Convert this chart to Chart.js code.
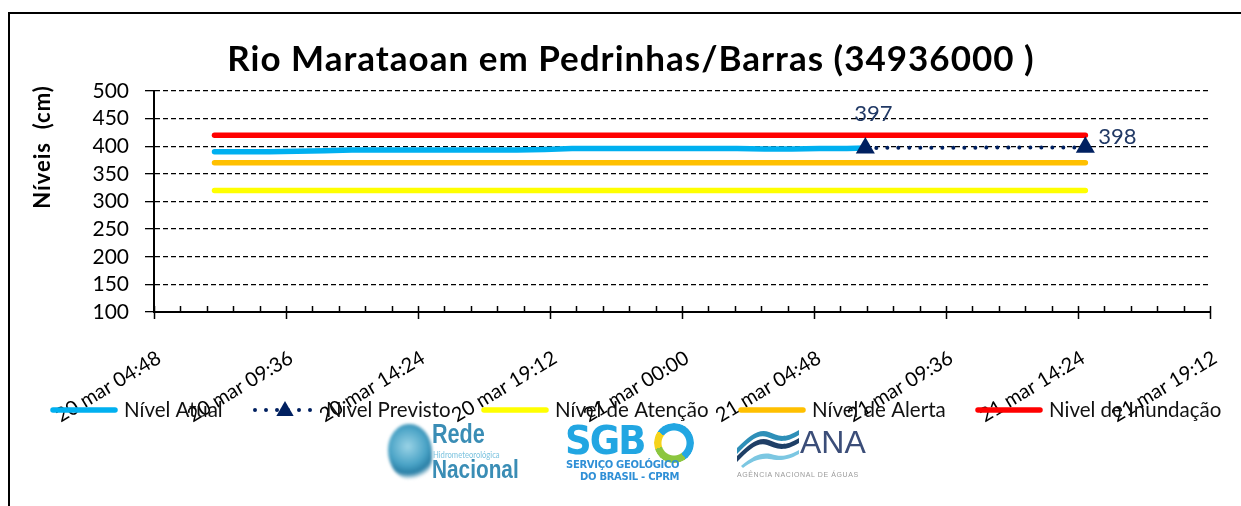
<!DOCTYPE html>
<html>
<head>
<meta charset="utf-8">
<script src="https://cdn.jsdelivr.net/npm/chart.js@4/dist/chart.umd.min.js"></script>
<style>
  body { margin: 0; background: #fff; width: 1241px; height: 506px; overflow: hidden; position: relative; font-family: Lato, sans-serif; }
  #frame { position: absolute; left: 8px; top: 12px; width: 1300px; height: 600px; border-left: 2px solid #000; border-top: 2px solid #000; }
  #chart { position: absolute; left: 0; top: 0; }
  .logo { position: absolute; white-space: nowrap; }
  .narrow { font-family: 'Liberation Sans Narrow', 'Liberation Sans', sans-serif; font-weight: bold; }
</style>
</head>
<body>
<div id="frame"></div>
<canvas id="chart" width="1241" height="506"></canvas>

<!-- logos (rough copies of the images under the legend) -->
<div class="logo" style="left:386px;top:418px;width:148px;height:68px">
  <div style="position:absolute;left:2px;top:6px;width:44px;height:56px;border-radius:48% 52% 40% 55%;background:radial-gradient(circle at 45% 40%, #9ad3e6 0%, #4aa3c6 45%, #2a7fa6 65%, rgba(42,127,166,0) 80%);filter:blur(1.5px)"></div>
  <div class="narrow" style="position:absolute;left:46px;top:1px;font-size:27px;color:#3a8db5;transform:scaleX(0.8);transform-origin:left">Rede</div>
  <div style="position:absolute;left:47px;top:31px;font-size:9px;color:#7cc3df;transform:scaleX(0.85);transform-origin:left">Hidrometeorológica</div>
  <div class="narrow" style="position:absolute;left:46px;top:36px;font-size:26px;color:#3a8db5;transform:scaleX(0.8);transform-origin:left">Nacional</div>
</div>

<div class="logo" style="left:562px;top:418px;width:145px;height:68px">
  <div style="position:absolute;left:3px;top:0px;font:900 39px 'DejaVu Sans', sans-serif;color:#22a6e2;letter-spacing:-2px;transform:scaleX(0.95);transform-origin:left">SGB</div>
  <div style="position:absolute;left:92px;top:5px;width:26px;height:26px;border-radius:50%;border:7px solid transparent;background:conic-gradient(#22a6e2 0 40%, #8cc63f 40% 70%, #f5d31b 70% 85%, #22a6e2 85%) border-box;-webkit-mask:radial-gradient(circle, transparent 12px, #000 13px)"></div>
  <div style="position:absolute;left:4px;top:41px;font:bold 10px 'DejaVu Sans', sans-serif;color:#2f8fd6;letter-spacing:-0.3px">SERVIÇO GEOLÓGICO</div>
  <div style="position:absolute;left:18px;top:53px;font:bold 10px 'DejaVu Sans', sans-serif;color:#2f8fd6;letter-spacing:-0.3px">DO BRASIL - CPRM</div>
</div>

<div class="logo" style="left:735px;top:418px;width:148px;height:68px">
  <svg style="position:absolute;left:0;top:8px" width="66" height="42" viewBox="0 0 66 42">
    <path d="M2 30 C14 18, 24 10, 34 14 C42 17, 48 22, 64 12 L64 17 C48 27, 40 22, 32 19 C22 16, 14 24, 2 36 Z" fill="#1f3f66"/>
    <path d="M2 22 C14 10, 24 2, 34 6 C42 9, 48 14, 64 4 L64 9 C48 19, 40 14, 32 11 C22 8, 14 16, 2 28 Z" fill="#2e8fb8"/>
    <path d="M6 40 C18 30, 26 26, 36 28 C44 30, 50 32, 64 24 L64 28 C50 36, 42 34, 34 33 C24 32, 16 36, 8 42 Z" fill="#7cc7e2"/>
  </svg>
  <div style="position:absolute;left:65px;top:6px;font:32px 'Liberation Sans', sans-serif;color:#3b4d78">ANA</div>
  <div style="position:absolute;left:2px;top:53px;font:7px 'Liberation Sans', sans-serif;color:#9a9a9a;letter-spacing:0.6px">AGÊNCIA NACIONAL DE ÁGUAS</div>
</div>

<script>
// ---- data ----
const titulo = 'Rio Marataoan em Pedrinhas/Barras (34936000 )';
const eixoY = 'Níveis  (cm)';

const atualTimes = [
  '20 mar 07:00', '20 mar 08:00', '20 mar 09:00', '20 mar 10:00', '20 mar 11:00', '20 mar 12:00',
  '20 mar 13:00', '20 mar 14:00', '20 mar 15:00', '20 mar 16:00', '20 mar 17:00', '20 mar 18:00',
  '20 mar 19:00', '20 mar 20:00', '20 mar 21:00', '20 mar 22:00', '20 mar 23:00', '21 mar 00:00',
  '21 mar 01:00', '21 mar 02:00', '21 mar 03:00', '21 mar 04:00', '21 mar 05:00', '21 mar 06:00',
  '21 mar 06:40'
];
const atualValues = [
  390, 390, 390, 391, 392, 393,
  393, 393, 393, 393, 393, 393,
  394, 396, 396, 396, 396, 396,
  396, 396, 395, 395, 396, 396,
  397
];

const previstoTimes = ['21 mar 06:40', '21 mar 14:40'];
const previstoValues = [397, 398];

const cotaTimes = ['20 mar 07:00', '21 mar 14:40'];
const cotaAtencao = [320, 320];
const cotaAlerta = [370, 370];
const cotaInundacao = [420, 420];

const xInicio = '20 mar 04:48';
const xFim = '21 mar 19:12';
const xPasso = 288;          // 4h48 between labelled ticks
const yMin = 100, yMax = 500, yPasso = 50;

// ---- helpers ----
function toMin(s) {
  const p = s.split(' ');
  const hm = p[2].split(':');
  return (parseInt(p[0]) - 20) * 1440 + parseInt(hm[0]) * 60 + parseInt(hm[1]);
}
function fmt(v) {
  const day = 20 + Math.floor(v / 1440);
  const r = Math.round(v % 1440);
  const h = Math.floor(r / 60), m = r % 60;
  return day + ' mar ' + String(h).padStart(2, '0') + ':' + String(m).padStart(2, '0');
}
const pts = (times, vals) => times.map((t, i) => ({ x: toMin(t), y: vals[i] }));

// positions of the hand-drawn legend entries
const legendX = [50, 252, 481, 738, 975];
const legendY = 410;
// data label offsets for the forecast points
const labelOff = [[8, -34], [32, -10]];

function triangle(ctx, x, y, r) {
  ctx.beginPath();
  ctx.moveTo(x, y - r);
  ctx.lineTo(x + 0.866 * r, y + 0.5 * r);
  ctx.lineTo(x - 0.866 * r, y + 0.5 * r);
  ctx.closePath();
  ctx.fill();
}

const extras = {
  id: 'extras',
  afterDatasetsDraw(chart) {
    const ctx = chart.ctx;
    // value labels on the forecast points
    const meta = chart.getDatasetMeta(1);
    ctx.save();
    ctx.font = '22px Lato';
    ctx.fillStyle = '#203864';
    ctx.textAlign = 'center';
    ctx.textBaseline = 'middle';
    meta.data.forEach((p, i) => {
      ctx.fillText(String(previstoValues[i]), p.x + labelOff[i][0], p.y + labelOff[i][1]);
    });
    ctx.restore();
  },
  afterDraw(chart) {
    const ctx = chart.ctx;
    const xs = chart.scales.x;
    const bottom = chart.chartArea.bottom;

    // major and minor tick marks on the time axis
    ctx.save();
    ctx.strokeStyle = '#000';
    ctx.lineWidth = 1.5;
    ctx.beginPath();
    const n = 40;
    for (let i = 0; i <= n; i++) {
      const v = xs.min + i * (xs.max - xs.min) / n;
      const px = Math.round(xs.getPixelForValue(v)) + 0.5;
      ctx.moveTo(px, bottom - 6);
      ctx.lineTo(px, i % 5 === 0 ? bottom + 7 : bottom);
    }
    ctx.stroke();
    ctx.restore();

    // title
    ctx.save();
    ctx.fillStyle = '#000';
    ctx.font = 'bold 35px Lato';
    ctx.letterSpacing = '1px';
    ctx.textAlign = 'center';
    ctx.textBaseline = 'alphabetic';
    ctx.fillText(titulo, 631, 71);

    // y axis title
    ctx.translate(50, 147);
    ctx.rotate(-Math.PI / 2);
    ctx.font = 'bold 22px Lato';
    ctx.fillText(eixoY, 0, 0);
    ctx.restore();

    // legend
    chart.data.datasets.forEach((ds, i) => {
      const x0 = legendX[i];
      ctx.save();
      ctx.strokeStyle = ds.borderColor;
      ctx.lineWidth = ds.borderWidth;
      ctx.lineCap = 'round';
      if (ds.borderDash) ctx.setLineDash(ds.borderDash);
      ctx.beginPath();
      ctx.moveTo(x0 + 3, legendY);
      ctx.lineTo(x0 + 65, legendY);
      ctx.stroke();
      if (ds.pointStyle === 'triangle') {
        ctx.fillStyle = ds.pointBackgroundColor;
        triangle(ctx, x0 + 33, legendY + 1, 10);
      }
      ctx.restore();
      ctx.save();
      ctx.fillStyle = '#111';
      ctx.font = '20.5px Lato';
      ctx.textBaseline = 'middle';
      ctx.fillText(ds.label, x0 + 74, legendY);
      ctx.restore();
    });
  }
};

const ctx = document.getElementById('chart').getContext('2d');

new Chart(ctx, {
  type: 'line',
  data: {
    datasets: [
      {
        label: 'Nível Atual',
        data: pts(atualTimes, atualValues),
        borderColor: '#00B0F0',
        borderWidth: 5.5,
        borderCapStyle: 'round',
        borderJoinStyle: 'round',
        pointRadius: 0,
        order: 1,
      },
      {
        label: 'Nivel Previsto',
        data: pts(previstoTimes, previstoValues),
        borderColor: '#002060',
        borderWidth: 4,
        borderDash: [0, 11],
        borderCapStyle: 'round',
        pointStyle: 'triangle',
        pointRadius: 11,
        pointBorderWidth: 0,
        pointBackgroundColor: '#002060',
        order: 0,
      },
      {
        label: 'Nível de Atenção',
        data: pts(cotaTimes, cotaAtencao),
        borderColor: '#FFFF00',
        borderWidth: 5.5,
        borderCapStyle: 'round',
        pointRadius: 0,
        order: 1,
      },
      {
        label: 'Nível de Alerta',
        data: pts(cotaTimes, cotaAlerta),
        borderColor: '#FFC000',
        borderWidth: 5.5,
        borderCapStyle: 'round',
        pointRadius: 0,
        order: 1,
      },
      {
        label: 'Nivel de Inundação',
        data: pts(cotaTimes, cotaInundacao),
        borderColor: '#FF0000',
        borderWidth: 5.5,
        borderCapStyle: 'round',
        pointRadius: 0,
        order: 1,
      },
    ],
  },
  options: {
    responsive: false,
    animation: false,
    devicePixelRatio: 1,
    layout: { padding: { top: 91, left: 0, right: 31, bottom: 74 } },
    plugins: {
      legend: { display: false },
      title: { display: false },
      tooltip: { enabled: false },
    },
    scales: {
      x: {
        type: 'linear',
        min: toMin(xInicio),
        max: toMin(xFim),
        afterFit: (scale) => {
          scale.height = 120;
          scale.paddingLeft = 0;
          scale.paddingRight = 0;
        },
        grid: { display: false, drawTicks: false },
        border: { display: true, color: '#000', width: 2 },
        ticks: {
          stepSize: xPasso,
          autoSkip: false,
          minRotation: 31,
          maxRotation: 31,
          padding: 34,
          labelOffset: 5,
          color: '#000',
          font: { family: 'Lato', size: 20 },
          callback: (v) => fmt(v),
        },
      },
      y: {
        min: yMin,
        max: yMax,
        afterFit: (scale) => { scale.width = 154; },
        grid: { color: '#000', lineWidth: 1.3, tickLength: 9 },
        border: { display: true, color: '#000', width: 2, dash: [5, 3] },
        ticks: {
          stepSize: yPasso,
          autoSkip: false,
          padding: 16,
          color: '#000',
          font: { family: 'Lato', size: 21 },
        },
      },
    },
  },
  plugins: [extras],
});
</script>
</body>
</html>
